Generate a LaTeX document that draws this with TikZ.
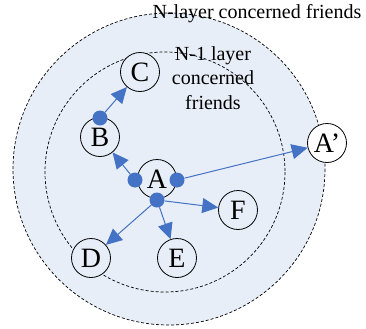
\documentclass[tikz,border=0pt]{standalone}
\usepackage{fontspec}
\setmainfont{Liberation Serif}
\usetikzlibrary{arrows.meta}
\definecolor{bgblue}{RGB}{232,238,248}
\definecolor{lineblue}{RGB}{68,114,196}
\newcommand{\nodefont}{\fontsize{28bp}{30bp}\selectfont}
\newcommand{\lblfont}{\fontsize{20bp}{24.5bp}\selectfont}
\begin{document}
\begin{tikzpicture}[x=1bp,y=-1bp,
  ring/.style={draw=black,line width=0.7bp,dash pattern=on 3bp off 2bp},
  friend/.style={circle,draw=black,line width=0.8bp,fill=bgblue,minimum size=39bp,inner sep=0pt,font=\nodefont},
  dot/.style={circle,fill=lineblue,minimum size=15bp,inner sep=0pt},
  link/.style={draw=lineblue,line width=1bp,-{Triangle[length=16bp,width=15bp]}},
  lbl/.style={font=\lblfont,align=center}]
\useasboundingbox (0,0) rectangle (366,329);
\fill[bgblue] (169,169) circle (156);
\draw[ring] (169,169) circle (156);
\draw[ring] (165,172) circle (120);
\node[lbl] (outerlbl) at (257,14) {N-layer concerned friends};
\node[lbl] (innerlbl) at (213,78) {N-1 layer\\concerned\\friends};
\node[friend] (C) at (140,72) {C};
\node[friend] (B) at (100,137) {B};
\node[friend] (A) at (157,179) {A};
\node[friend] (F) at (238,210) {F};
\node[friend] (D) at (91,258) {D};
\node[friend] (E) at (177,258) {E};
\node[friend,fill=white] (Ap) at (327,143) {A’};
\node[dot] (bd) at (100,118) {};
\node[dot] (al) at (135,180) {};
\node[dot] (ar) at (177,180) {};
\node[dot] (ab) at (157,200) {};
\draw[link] (bd) -- (C);
\draw[link] (al) -- (B);
\draw[link] (ar) -- (Ap);
\draw[link] (ab) -- (D);
\draw[link] (ab) -- (E);
\draw[link] (ab) -- (F);
\end{tikzpicture}
\end{document}
